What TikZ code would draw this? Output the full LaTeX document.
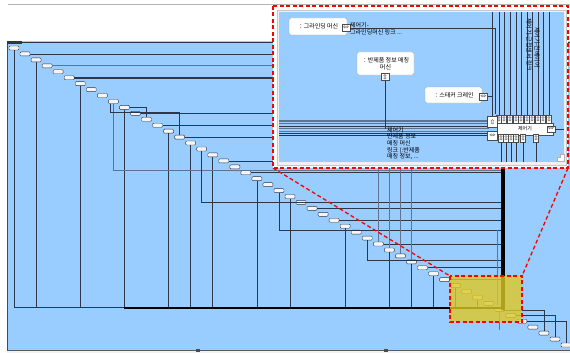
\documentclass[tikz,border=0pt]{standalone}
\usepackage{fontspec}
\newfontfamily\kr{Noto Sans CJK KR}
\usepackage{tikz}
\usetikzlibrary{positioning}
\definecolor{seqblue}{RGB}{153,204,255}
\definecolor{lnk}{RGB}{45,55,75}
\definecolor{lnkgray}{RGB}{95,115,145}
\definecolor{hl}{RGB}{222,200,35}

\begin{document}
\begin{tikzpicture}[x=1pt,y=-1pt,
  life/.style={draw=lnk,fill=gray!8,rounded corners=1pt,minimum width=10pt,minimum height=4pt,inner sep=0pt,line width=0.4pt},
  obj/.style={draw=gray!70,fill=white,rounded corners=2pt,inner sep=1pt,font=\kr\fontsize{6}{7}\selectfont,align=center},
  port/.style={draw=gray!60!black,fill=white,inner sep=0pt,minimum width=5pt,minimum height=8pt,line width=0.4pt,font=\fontsize{4}{4}\selectfont},
  msg/.style={font=\kr\fontsize{6}{6.6}\selectfont,inner sep=0pt,anchor=west,align=left},
  wire/.style={draw=lnk,line width=0.6pt},
  gwire/.style={draw=lnkgray,line width=0.8pt},
  zoomline/.style={draw=red,line width=1.3pt,dash pattern=on 4pt off 2.5pt}]
\useasboundingbox (0,0) rectangle (570,353);
\fill[white] (0,0) rectangle (570,353);
\draw[gray!60,line width=0.8pt] (8,4) -- (570,4);

% diagram area
\fill[seqblue] (7,41) rectangle (570,353);
\draw[blue!55!gray,line width=0.8pt] (7.4,41) -- (7.4,350);
\draw[lnk,line width=0.7pt] (7,42) -- (570,42);
\fill[lnk] (7,41.5) rectangle (22,44.5);
\fill[gray!10] (7,350) rectangle (570,353);
\draw[gray!70!black,line width=0.7pt] (7,350) -- (570,350);
\fill[gray!60!black] (196,349) rectangle (200,352);
\fill[gray!60!black] (384,349) rectangle (388,352);

% lifelines
\foreach \k in {0,...,50}{
  \pgfmathsetmacro\px{14+11.04*\k}
  \pgfmathsetmacro\py{48+5.94*\k}
  \node[life] (n\k) at (\px,\py) {};
}
\coordinate (bus) at (0,307.5);
\coordinate (bar) at (503,0);
\coordinate (bartop) at (503,160);
\coordinate (barbot) at (503,310);
\coordinate (up) at (0,150);

% down to the bus
\foreach \k in {0,2,6,10,14,16,18,22,25,30,34,36,38,40,42}
  \draw[wire] (n\k.south) -- (n\k |- bus);
\draw[wire] (n0 |- bus) -- (n10 |- bus);
\draw[black,line width=2pt] (n10 |- bus) -- (bar |- bus);

% over to the bar
\foreach \k in {1,11,13,15,19,21,27,29,33,37,39}
  \draw[wire] (n\k.east) -- (n\k -| bar);
\draw[gwire,line width=1.3pt] (n3.east) -- (n3 -| bar);
\draw[lnk,line width=2.2pt] (n5.east) -- (n5 -| bar);

\coordinate (r9) at (0,170);
\coordinate (r9b) at (0,112);
\coordinate (n9a) at ([xshift=-3pt]n9.south);
\draw[gwire] (n9.south) -- (n9 |- r9) -- (r9 -| bar);
\draw[wire] (n9a) -- (n9a |- r9b) -- (n15 |- r9b) -- (n15.north);
\draw[wire] (n10.east) -| (n12.north);
\coordinate (r17) at (0,202);
\coordinate (r24) at (0,230);
\coordinate (r32) at (0,260);
\draw[wire] (n17.south) |- (r17 -| bar);
\draw[wire] (n24.south) |- (r24 -| bar);
\draw[wire] (n32.south) |- (r32 -| bar);
\foreach \k in {33,34,35,36}
  \draw[gwire] (n\k.north) -- (n\k |- up);
\coordinate (s1) at (497,230);
\coordinate (s2) at (497,305);
\draw[gwire] (s1) -- (s2);
\draw[black,line width=3.5pt] (bartop) -- (barbot);

% tail
\coordinate (t1) at (0,310);
\draw[wire] (bar |- t1) -| (n48.north);
\draw[wire] (n45.east) -| (n49.north);
\draw[wire] (n46.east) -| (n50.north);
\draw[gwire] (n44.south) -- ++(0,18);

% highlight
\coordinate (hla) at (450,276);
\coordinate (hlb) at (522,322);
\fill[hl,opacity=0.8] (hla) rectangle (hlb);
\draw[zoomline] (hla) rectangle (hlb);

% zoom box
\coordinate (za) at (273,6);
\coordinate (zb) at (568,168);
\draw[zoomline] (za |- zb) -- (hla);
\draw[zoomline] (zb) -- (hlb |- hla);
\filldraw[fill=white,zoomline] (za) rectangle (zb);
\filldraw[fill=gray!12,draw=gray!45] (277,10) rectangle (566,165);
\fill[seqblue] (279,12) rectangle (564,162);

\coordinate (ptop) at (0,12);
\coordinate (pbot) at (0,162);
\coordinate (pl) at (279,0);
\coordinate (pr) at (564,0);

% message bundle
\foreach \y/\c/\w in {121/lnkgray/1.2,123.5/lnkgray/0.6,126/lnk/0.6,128.5/lnkgray/0.8,131/lnkgray/0.8,133/lnk/0.6,135.5/lnk/1.3}
  \draw[\c,line width=\w pt] (279,\y) -- (489,\y);

% objects
\node[obj,minimum width=58pt,minimum height=17pt] (grind) at (318,26.5) {：그라인딩 머신};
\node[port,minimum width=8pt,minimum height=7pt] (gp) at (346,28) {$\Leftrightarrow$};
\node[msg] (gl) at (350,28.5) {제어기-\\그라인딩머신 링크 ...};

\node[obj,minimum width=57pt,minimum height=23pt] (match) at (385.5,63.5) {：반제품 정보 매칭\\머신};
\node[port,minimum width=8pt,minimum height=7pt] (mp) at (385,77) {$\Updownarrow$};
\node[msg] (ml) at (387,143.5) {제어기\\반제품 정보\\매칭 머신\\링크 (:반제품\\매칭 정보, ...};
\draw[wire] (mp.south) -- (385,129);

\node[obj,minimum width=57pt,minimum height=16pt] (crane) at (453.5,95) {：스태커 크레인};
\node[port,minimum width=8pt,minimum height=7pt] (cp) at (483.5,96.5) {$\Leftrightarrow$};

% controller
\node[draw=gray!60!black,fill=white,minimum width=56pt,minimum height=12pt,inner sep=0pt,font=\kr\fontsize{5}{5}\selectfont] (ctl) at (525,129) {제어기};
\foreach \x in {499,504,510,516,521,527,532,538,543,549}{
  \node[port] (tp\x) at (\x,119) {$\Updownarrow$};
  \draw[wire] (tp\x.north) -- (tp\x |- ptop);
}
\foreach \x in {501,506,511,516,523,536}{
  \node[port] (bp\x) at (\x,138) {$\Updownarrow$};
  \draw[wire] (bp\x.south) -- (bp\x |- pbot);
}
\node[port,minimum width=10pt,minimum height=11pt] (lp1) at (492.5,122) {$\Updownarrow$};
\node[port,minimum width=10pt,minimum height=9pt] (lp2) at (492.5,135.5) {$\Leftrightarrow$};
\node[port,minimum width=8pt,minimum height=6pt] (rp) at (551,129) {$\Leftrightarrow$};
\draw[wire] (rp.east) -- (rp -| pr);
\draw[wire] (gp.east) -| (495,114);
\draw[wire] (cp.east) -- (cp -| lp1);
\draw[wire] (lp1.north) -- (lp1 |- ptop);

\node[msg,rotate=-90] (v1) at (529,18) {제어기-근접센서 링크};
\node[msg,rotate=-90] (v2) at (537,27) {제어기-컨베이어};

\filldraw[fill=white,draw=gray!60] (557,161) -- (557,157) -- (560,157) -- (560,154) -- (564,154) -- (564,161) -- cycle;
\end{tikzpicture}
\end{document}
